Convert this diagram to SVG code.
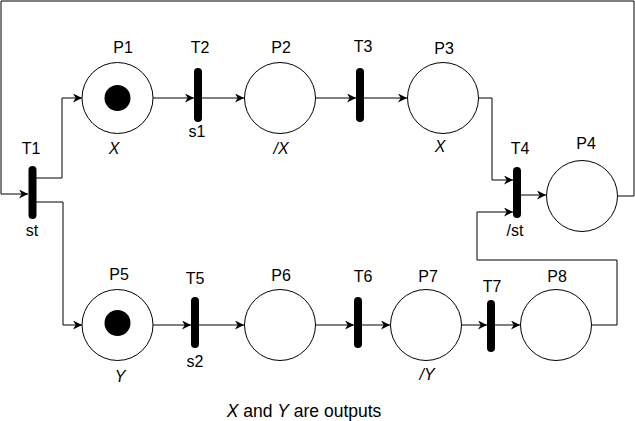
<svg xmlns="http://www.w3.org/2000/svg" width="635" height="421" viewBox="0 0 635 421">
<style>
.place{fill:#fff;stroke:#000;stroke-width:1}
.token{fill:#000}
.trans{fill:#000}
.edge{fill:none;stroke:#000;stroke-width:1;marker-end:url(#arr)}
text{font-family:"Liberation Sans",Arial,sans-serif;font-size:16px;fill:#000;text-anchor:middle}
.it{font-style:italic}
.note{font-size:17.5px}
</style>
<defs>
<marker id="arr" viewBox="0 0 10 10" refX="10" refY="5" markerWidth="9" markerHeight="9" markerUnits="userSpaceOnUse" orient="auto">
<path d="M0,0 L10,5 L0,10 L3,5 Z" fill="#000"/>
</marker>
</defs>
<rect width="635" height="421" fill="#fff"/>
<g id="connectors">
<path class="edge" d="M36 178 H62 V98 H82"/>
<path class="edge" d="M36 202 H63 V325 H82"/>
<path class="edge" d="M153 98 H194"/>
<path class="edge" d="M202 98 H244"/>
<path class="edge" d="M316 98 H356"/>
<path class="edge" d="M364 98 H407"/>
<path class="edge" d="M479 98 H492 V180 H513"/>
<path class="edge" d="M521 195 H546"/>
<path class="edge" d="M618 196 H634 V1 H1 V194 H28"/>
<path class="edge" d="M592 325 H617 V260 H477 V212 H513"/>
<path class="edge" d="M153 325 H191"/>
<path class="edge" d="M199 325 H244"/>
<path class="edge" d="M316 325 H354"/>
<path class="edge" d="M362 325 H390"/>
<path class="edge" d="M462 325 H487"/>
<path class="edge" d="M495 325 H520"/>
</g>
<g id="P1"><circle class="place" cx="117.5" cy="98" r="35.5"/><circle class="token" cx="117.5" cy="98" r="13"/><text x="123" y="53">P1</text><text class="it" x="114" y="154">X</text></g>
<g id="P2"><circle class="place" cx="280" cy="98" r="35.5"/><text x="281" y="53">P2</text><text class="it" x="281" y="154">/X</text></g>
<g id="P3"><circle class="place" cx="443" cy="98" r="35.5"/><text x="444" y="54">P3</text><text class="it" x="440" y="152">X</text></g>
<g id="P4"><circle class="place" cx="582" cy="196" r="35.5"/><text x="586" y="149">P4</text></g>
<g id="P5"><circle class="place" cx="117.5" cy="325" r="35.5"/><circle class="token" cx="117.5" cy="323" r="13"/><text x="119" y="280">P5</text><text class="it" x="120" y="382">Y</text></g>
<g id="P6"><circle class="place" cx="280" cy="325" r="35.5"/><text x="281" y="281">P6</text></g>
<g id="P7"><circle class="place" cx="426" cy="325" r="35.5"/><text x="428" y="282">P7</text><text class="it" x="427" y="380">/Y</text></g>
<g id="P8"><circle class="place" cx="556" cy="325" r="35.5"/><text x="557" y="282">P8</text></g>
<g id="T1"><rect class="trans" x="28.5" y="166" width="8" height="53" rx="4"/><text x="31" y="154">T1</text><text x="32" y="236">st</text></g>
<g id="T2"><rect class="trans" x="194" y="68" width="8" height="54" rx="4"/><text x="200" y="53">T2</text><text x="197" y="137">s1</text></g>
<g id="T3"><rect class="trans" x="356" y="68" width="8" height="54" rx="4"/><text x="363" y="52">T3</text></g>
<g id="T4"><rect class="trans" x="513" y="167" width="8" height="51" rx="4"/><text x="520" y="154">T4</text><text x="515" y="236">/st</text></g>
<g id="T5"><rect class="trans" x="191" y="297" width="8" height="51" rx="4"/><text x="195" y="284">T5</text><text x="195" y="367">s2</text></g>
<g id="T6"><rect class="trans" x="354" y="297" width="8" height="51" rx="4"/><text x="363" y="282">T6</text></g>
<g id="T7"><rect class="trans" x="487" y="300" width="8" height="52" rx="4"/><text x="492" y="292">T7</text></g>
<g id="note"><text class="note" x="304" y="417"><tspan class="it">X</tspan> and <tspan class="it">Y</tspan> are outputs</text></g>
</svg>
